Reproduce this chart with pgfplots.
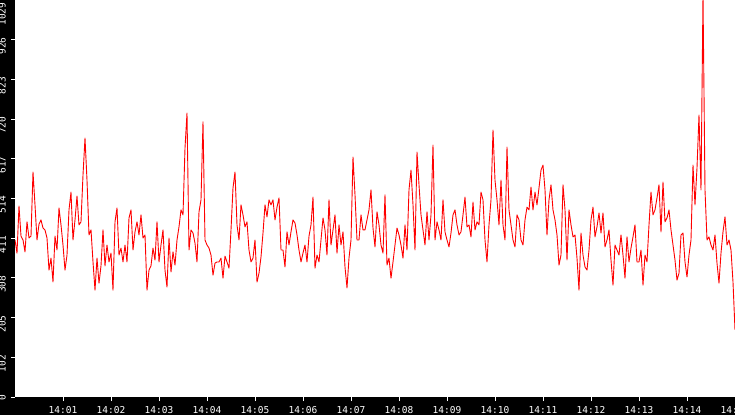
\documentclass[border=0pt]{standalone}
\usepackage{fontspec}
\setmonofont{DejaVu Sans Mono}
\usepackage{pgfplots}
\pgfplotsset{compat=1.18}
\begin{document}
\begin{tikzpicture}
% whole picture: 735 x 415, black strips left and bottom
\path[use as bounding box, clip] (-15pt,-18pt) rectangle (720pt,397pt);
\fill[black] (-15pt,-18pt) rectangle (720pt,397pt);
\begin{axis}[
  scale only axis, width=720pt, height=397pt,
  at={(0,0)}, anchor=south west,
  xmin=0, xmax=900, ymin=0, ymax=1029,
  axis background/.style={fill=white},
  axis line style={draw=none},
  tick style={white, line width=1pt},
  major tick length=4pt, tick align=outside,
  xtick pos=bottom, ytick pos=left,
  xtick={60,120,180,240,300,360,420,480,540,600,660,720,780,840,900},
  xticklabels={14:01,14:02,14:03,14:04,14:05,14:06,14:07,14:08,14:09,14:10,14:11,14:12,14:13,14:14,14:15},
  ytick={0,102.9,205.8,308.7,411.6,514.5,617.4,720.3,823.2,926.1},
  yticklabels={0,102,205,308,411,514,617,720,823,926},
  extra y ticks={1029}, extra y tick labels={1029},
  extra y tick style={yticklabel style={xshift=-5pt}},
  ticklabel style={font=\ttfamily\fontsize{9.5}{9.5}\selectfont, text=white, inner sep=0pt},
  xticklabel style={anchor=north, yshift=-5pt},
  yticklabel style={rotate=90, anchor=south east, xshift=2.5pt, yshift=5pt},
]
\addplot[red, line width=0.9pt, line join=round, no markers]
  table[row sep=\\, x expr=\coordindex*2.5, y=v] {
v\\
407\\373\\495\\417\\407\\376\\454\\412\\417\\583\\498\\407\\448\\459\\438\\433\\412\\329\\360\\298\\
417\\381\\490\\446\\394\\329\\368\\485\\531\\407\\459\\521\\446\\454\\575\\671\\562\\420\\433\\350\\
277\\360\\295\\340\\433\\340\\394\\350\\373\\277\\454\\490\\368\\386\\350\\394\\350\\464\\485\\381\\
428\\454\\420\\
472\\412\\420\\277\\329\\340\\386\\355\\454\\350\\394\\433\\329\\285\\412\\324\\376\\342\\407\\441\\
485\\472\\645\\736\\381\\433\\425\\399\\350\\480\\511\\713\\407\\394\\386\\368\\316\\347\\350\\350\\
360\\308\\365\\350\\334\\433\\542\\583\\446\\407\\498\\472\\441\\454\\381\\350\\360\\407\\298\\321\\
363\\425\\498\\467\\511\\498\\511\\459\\492\\516\\381\\381\\337\\428\\394\\428\\459\\451\\420\\381\\
350\\373\\394\\350\\417\\446\\518\\334\\368\\350\\407\\464\\433\\368\\511\\394\\433\\472\\373\\446\\
394\\428\\337\\283\\360\\407\\622\\524\\407\\407\\472\\433\\433\\459\\485\\537\\438\\389\\480\\446\\
394\\373\\524\\342\\360\\308\\350\\394\\438\\420\\394\\360\\446\\381\\537\\588\\498\\381\\635\\550\\
472\\433\\394\\480\\407\\472\\653\\407\\454\\433\\407\\511\\428\\407\\389\\425\\472\\485\\446\\420\\
428\\472\\518\\441\\446\\415\\505\\433\\454\\446\\531\\511\\407\\350\\446\\511\\692\\562\\511\\446\\
562\\446\\407\\648\\485\\446\\407\\389\\472\\459\\407\\394\\459\\492\\485\\544\\485\\531\\498\\542\\
588\\601\\537\\420\\511\\550\\485\\459\\420\\342\\368\\550\\485\\355\\485\\446\\415\\420\\360\\277\\
425\\368\\337\\329\\381\\459\\492\\415\\441\\477\\425\\477\\389\\407\\433\\355\\290\\394\\381\\368\\
420\\368\\308\\415\\350\\386\\415\\446\\350\\350\\381\\290\\368\\350\\446\\531\\472\\485\\516\\550\\
428\\557\\454\\464\\485\\433\\394\\355\\303\\321\\420\\425\\350\\311\\368\\407\\601\\498\\594\\731\\
537\\1040\\537\\407\\415\\394\\381\\420\\347\\295\\373\\428\\467\\394\\407\\381\\298\\174\\
};
\end{axis}
\end{tikzpicture}
\end{document}
